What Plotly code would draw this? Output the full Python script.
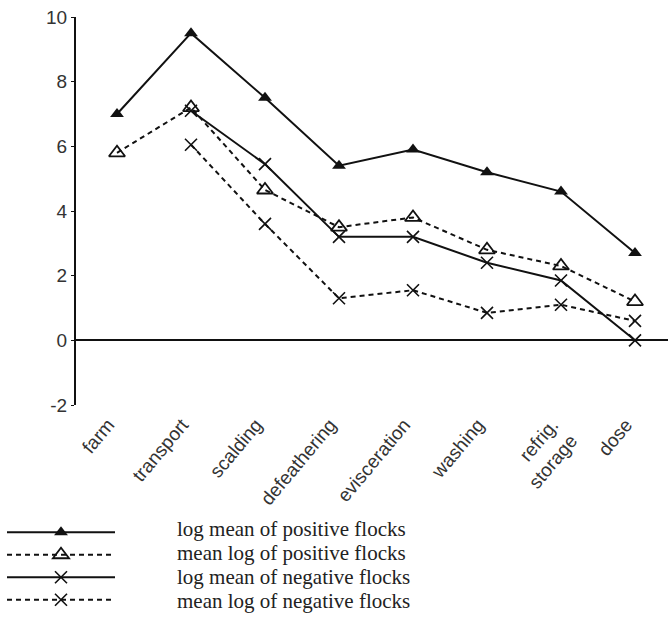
import plotly.graph_objects as go

stages = ["farm", "transport", "scalding", "defeathering", "evisceration",
          "washing", "refrig.<br>storage", "dose"]

series_names = ["log mean of positive flocks", "mean log of positive flocks",
                "log mean of negative flocks", "mean log of negative flocks"]

log_mean_pos = [7.0, 9.5, 7.5, 5.4, 5.9, 5.2, 4.6, 2.7]
mean_log_pos = [5.8, 7.2, 4.65, 3.5, 3.8, 2.8, 2.3, 1.2]
log_mean_neg = [None, 7.1, 5.45, 3.2, 3.2, 2.4, 1.85, 0.0]
mean_log_neg = [None, 6.05, 3.6, 1.3, 1.55, 0.85, 1.1, 0.6]

y_ticks = [-2, 0, 2, 4, 6, 8, 10]
y_tick_text = ["-2", "0", "2", "4", "6", "8", "10"]

idx = list(range(len(stages)))
ink = "#111111"
dash = "5px,4px"

styles = [
    dict(line=dict(color=ink, width=2),
         marker=dict(symbol="triangle-up", size=12, color=ink)),
    dict(line=dict(color=ink, width=2, dash=dash),
         marker=dict(symbol="triangle-up-open", size=14, color=ink, line=dict(width=1.8, color=ink))),
    dict(line=dict(color=ink, width=2),
         marker=dict(symbol="x-thin-open", size=12, color=ink, line=dict(width=1.6, color=ink))),
    dict(line=dict(color=ink, width=2, dash=dash),
         marker=dict(symbol="x-thin-open", size=12, color=ink, line=dict(width=1.6, color=ink))),
]

fig = go.Figure()
for name, vals, st in zip(series_names,
                          [log_mean_pos, mean_log_pos, log_mean_neg, mean_log_neg],
                          styles):
    fig.add_trace(go.Scatter(x=idx, y=vals, mode="lines+markers", name="\u00a0",
                             hovertext=name, **st))

# geometry of the plot area (px)
plot_left, plot_right = 76, 668
plot_top, plot_bottom = 17, 405

# legend texts (the legend itself only draws the line samples)
row_y = [529, 553, 577, 601]
for name, py in zip(series_names, row_y):
    fig.add_annotation(
        text=name, xref="paper", yref="paper",
        x=(175 - plot_left) / (plot_right - plot_left),
        y=(plot_bottom - py) / (plot_bottom - plot_top),
        xanchor="left", yanchor="middle", showarrow=False,
        font=dict(family="Liberation Serif, Times New Roman", size=21, color="#222"),
    )

fig.update_layout(
    width=668, height=618,
    margin=dict(l=plot_left, r=668 - plot_right, t=plot_top, b=618 - plot_bottom,
                autoexpand=False),
    paper_bgcolor="white", plot_bgcolor="white",
    font=dict(family="Liberation Sans, Arial", size=19, color="#222"),
    showlegend=True,
    legend=dict(
        xref="container", yref="container", x=2 / 668, y=1 - 516 / 618,
        xanchor="left", yanchor="top",
        font=dict(family="Liberation Serif, Times New Roman", size=15, color="#222"),
        itemwidth=108, tracegroupgap=0, bgcolor="rgba(0,0,0,0)",
    ),
    xaxis=dict(
        range=[-0.554, 7.446], showgrid=False, zeroline=False, showline=False,
        tickmode="array", tickvals=[i - 0.12 for i in idx], ticktext=stages,
        tickangle=-50, ticks="", ticklabelstandoff=4,
        tickfont=dict(size=19, color="#333"),
    ),
    yaxis=dict(
        range=[-2, 10], showgrid=False, showline=True, linecolor=ink, linewidth=2,
        zeroline=True, zerolinecolor=ink, zerolinewidth=2,
        tickmode="array", tickvals=y_ticks, ticktext=y_tick_text,
        ticks="outside", ticklen=3,
        tickcolor=ink, tickfont=dict(size=19, color="#333"),
    ),
)

fig.write_html("out.html")
